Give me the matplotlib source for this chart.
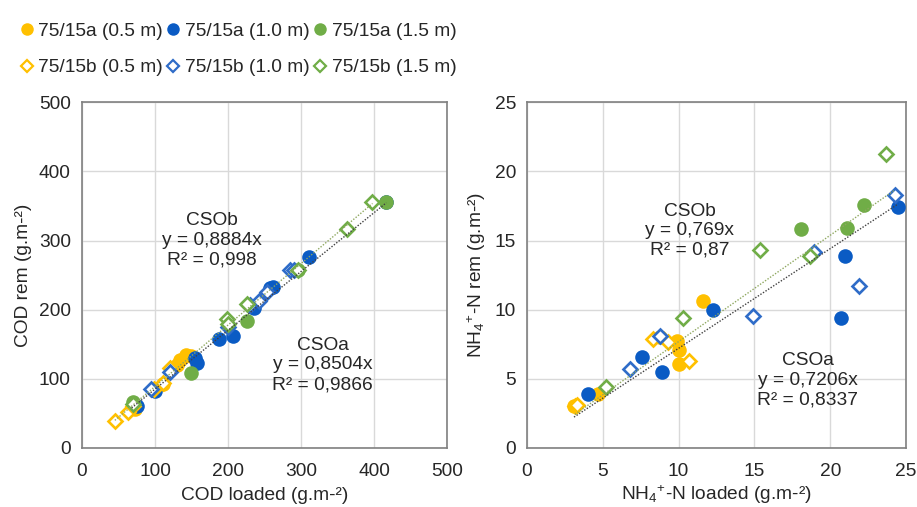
import numpy as np
import matplotlib.pyplot as plt
from matplotlib.lines import Line2D

plt.rcParams['font.family'] = ['Liberation Sans', 'DejaVu Sans']
plt.rcParams['mathtext.fontset'] = 'custom'
plt.rcParams['mathtext.rm'] = 'Liberation Sans'
plt.rcParams['mathtext.it'] = 'Liberation Sans:italic'

# --- COD (left panel) ---
cod_a05_x = [68, 73, 111, 130, 134, 143, 150]
cod_a05_y = [58, 57, 93, 120, 127, 134, 133]
cod_b05_x = [45, 63, 70, 98, 111, 120]
cod_b05_y = [39, 52, 60, 85, 94, 115]
cod_a10_x = [75, 100, 155, 158, 188, 207, 235, 258, 262, 311, 417]
cod_a10_y = [60, 83, 130, 123, 158, 162, 202, 231, 233, 276, 355]
cod_b10_x = [95, 120, 200, 230, 242, 253, 285, 290]
cod_b10_y = [86, 110, 175, 207, 213, 226, 257, 258]
cod_a15_x = [70, 150, 226, 296, 417]
cod_a15_y = [67, 108, 184, 258, 356]
cod_b15_x = [70, 198, 200, 226, 296, 363, 398]
cod_b15_y = [63, 186, 180, 208, 258, 317, 355]

# --- NH4-N (right panel) ---
nh_a05_x = [3.1, 4.7, 8.77, 9.87, 10.0, 10.0, 11.6]
nh_a05_y = [3.0, 3.9, 8.0, 7.77, 7.1, 6.1, 10.6]
nh_b05_x = [3.16, 3.27, 8.33, 9.3, 10.7]
nh_b05_y = [3.02, 3.14, 7.9, 7.65, 6.26]
nh_a10_x = [4.04, 7.6, 8.88, 12.3, 20.7, 21.0, 24.5]
nh_a10_y = [3.93, 6.6, 5.49, 9.98, 9.38, 13.9, 17.4]
nh_b10_x = [6.8, 8.77, 14.9, 18.9, 21.9, 24.26]
nh_b10_y = [5.73, 8.13, 9.57, 14.2, 11.7, 18.3]
nh_a15_x = [18.1, 21.1, 22.2]
nh_a15_y = [15.8, 15.9, 17.55]
nh_b15_x = [5.2, 10.3, 15.4, 18.7, 23.7]
nh_b15_y = [4.4, 9.4, 14.3, 13.9, 21.25]

# regression slopes (forced through origin)
cod_slope_a, cod_slope_b = 0.8504, 0.8884
nh_slope_a, nh_slope_b = 0.7206, 0.769

labels = ['75/15a (0.5 m)', '75/15a (1.0 m)', '75/15a (1.5 m)',
          '75/15b (0.5 m)', '75/15b (1.0 m)', '75/15b (1.5 m)']

orange = '#FFC000'
blue = '#0A5BC4'
blue_light = '#2F6CC8'
green = '#70AD47'
txt = '#262626'
fs = 13.8

fig = plt.figure(figsize=(9.17, 5.07), dpi=100)
ax1 = fig.add_axes([0.0894, 0.1164, 0.398, 0.682])
ax2 = fig.add_axes([0.5747, 0.1164, 0.4133, 0.682])


def draw(ax, a, b, slope_a, slope_b):
    (a05, a10, a15), (b05, b10, b15) = a, b
    circ = dict(marker='o', linestyle='none', markersize=10.5, markeredgewidth=0)
    dia = dict(marker='D', linestyle='none', markersize=7.5, markeredgewidth=1.9,
               markerfacecolor='white')
    ax.plot(*a05, color=orange, **circ, zorder=3)
    ax.plot(*a10, color=blue, **circ, zorder=3)
    ax.plot(*a15, color=green, **circ, zorder=3)
    ax.plot(*b05, color=orange, markeredgecolor=orange, **dia, zorder=4)
    ax.plot(*b10, color=blue_light, markeredgecolor=blue_light, **dia, zorder=4)
    ax.plot(*b15, color=green, markeredgecolor=green, **dia, zorder=4)
    xa = np.concatenate([a05[0], a10[0], a15[0]])
    xb = np.concatenate([b05[0], b10[0], b15[0]])
    la = np.array([xa.min(), xa.max()])
    lb = np.array([xb.min(), xb.max()])
    ax.plot(la, slope_a * la, linestyle=(0, (1, 1.2)), color='#404040', lw=1.0, zorder=5)
    ax.plot(lb, slope_b * lb, linestyle=(0, (1, 1.2)), color='#8FA860', lw=1.0, zorder=5)
    ax.grid(True, color='#D9D9D9', lw=1.0)
    ax.set_axisbelow(True)
    for s in ax.spines.values():
        s.set_color('#808080')
        s.set_linewidth(1.2)
    ax.tick_params(length=0, labelsize=fs, colors=txt)
    ax.tick_params(axis='x', pad=11)
    ax.tick_params(axis='y', pad=8)


draw(ax1,
     ((cod_a05_x, cod_a05_y), (cod_a10_x, cod_a10_y), (cod_a15_x, cod_a15_y)),
     ((cod_b05_x, cod_b05_y), (cod_b10_x, cod_b10_y), (cod_b15_x, cod_b15_y)),
     cod_slope_a, cod_slope_b)
draw(ax2,
     ((nh_a05_x, nh_a05_y), (nh_a10_x, nh_a10_y), (nh_a15_x, nh_a15_y)),
     ((nh_b05_x, nh_b05_y), (nh_b10_x, nh_b10_y), (nh_b15_x, nh_b15_y)),
     nh_slope_a, nh_slope_b)

ax1.set_xlim(0, 500)
ax1.set_ylim(0, 500)
ax1.set_xticks(range(0, 501, 100))
ax1.set_yticks(range(0, 501, 100))
ax2.set_xlim(0, 25)
ax2.set_ylim(0, 25)
ax2.set_xticks(range(0, 26, 5))
ax2.set_yticks(range(0, 26, 5))

ax1.set_xlabel('COD loaded (g.m-²)', fontsize=fs, color=txt, labelpad=5)
ax1.set_ylabel('COD rem (g.m-²)', fontsize=fs, color=txt, labelpad=5)
ax2.set_xlabel(r'NH$_4$$^{+}$-N loaded (g.m-²)', fontsize=fs, color=txt, labelpad=2)
ax2.set_ylabel(r'NH$_4$$^{+}$-N rem (g.m-²)', fontsize=fs, color=txt, labelpad=5)

ann = dict(ha='center', va='center', fontsize=fs, color=txt, linespacing=1.2)
ax1.text(178, 300, 'CSOb\ny = 0,8884x\nR² = 0,998', **ann)
ax1.text(330, 120, 'CSOa\ny = 0,8504x\nR² = 0,9866', **ann)
ax2.text(10.75, 15.7, 'CSOb\ny = 0,769x\nR² = 0,87', **ann)
ax2.text(18.5, 4.9, 'CSOa\ny = 0,7206x\nR² = 0,8337', **ann)

# legend: two rows (a = filled circles, b = open diamonds)
def h_circle(c):
    return Line2D([], [], marker='o', linestyle='none', color=c, markersize=9,
                  markeredgewidth=0)


def h_dia(c):
    return Line2D([], [], marker='D', linestyle='none', color=c, markeredgecolor=c,
                  markerfacecolor='white', markersize=6.5, markeredgewidth=1.6)


handles = [h_circle(orange), h_dia(orange), h_circle(blue), h_dia(blue_light),
           h_circle(green), h_dia(green)]
order_labels = [labels[0], labels[3], labels[1], labels[4], labels[2], labels[5]]
fig.legend(handles, order_labels, loc='upper left', bbox_to_anchor=(0.004, 0.99),
           ncol=3, frameon=False, fontsize=fs, handlelength=0.6, handletextpad=0.3,
           columnspacing=0.25, labelspacing=1.0, borderpad=0.4, labelcolor=txt)

fig.savefig('out.png', dpi=100, facecolor='white')
